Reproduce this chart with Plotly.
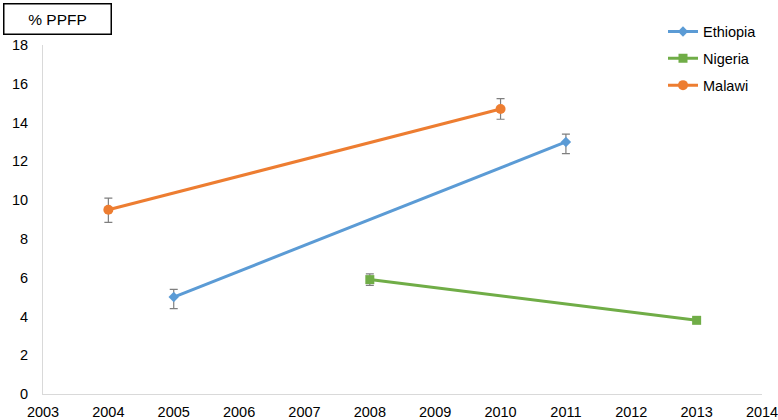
import plotly.graph_objects as go

years_eth = [2005, 2011]
vals_eth = [5.0, 13.0]
err_eth_plus = [0.4, 0.4]
err_eth_minus = [0.6, 0.6]

years_nga = [2008, 2013]
vals_nga = [5.9, 3.8]
err_nga_plus = [0.3, 0.15]
err_nga_minus = [0.3, 0.15]

years_mwi = [2004, 2010]
vals_mwi = [9.5, 14.7]
err_mwi_plus = [0.6, 0.53]
err_mwi_minus = [0.65, 0.53]

x_ticks = list(range(2003, 2015))
y_ticks = list(range(0, 19, 2))

FONT = "Liberation Sans, Arial, Helvetica, sans-serif"
ERR = "#7f7f7f"
FS = 14.5

fig = go.Figure()

def add(name, xs, ys, ep, em, color, symbol, size, group):
    fig.add_trace(go.Scatter(
        x=xs, y=ys, name=name, mode="lines+markers",
        line=dict(color=color, width=3),
        marker=dict(color=color, symbol=symbol, size=size),
        error_y=dict(type="data", symmetric=False, array=ep, arrayminus=em,
                     color=ERR, thickness=1.2, width=4),
        legendgroup=group,
    ))

add("Ethiopia", years_eth, vals_eth, err_eth_plus, err_eth_minus, "#5B9BD5", "diamond", 8, "a")
add("Nigeria", years_nga, vals_nga, err_nga_plus, err_nga_minus, "#70AD47", "square", 9, "b")
add("Malawi", years_mwi, vals_mwi, err_mwi_plus, err_mwi_minus, "#ED7D31", "circle", 10, "c")

L, R, T, B = 43, 16, 45, 26
W, H = 778, 420
pw = W - L - R
ph = H - T - B

fig.update_layout(
    width=W, height=H,
    margin=dict(l=L, r=R, t=T, b=B, pad=0),
    paper_bgcolor="white", plot_bgcolor="white",
    font=dict(family=FONT, size=FS, color="#000000"),
    showlegend=True,
    legend=dict(
        x=(663 - L) / pw, y=(ph + T - 15.5) / ph, xanchor="left", yanchor="top",
        font=dict(size=FS, family=FONT), tracegroupgap=5,
        bgcolor="rgba(0,0,0,0)",
    ),
    xaxis=dict(
        range=[2003, 2014], tickvals=x_ticks, ticktext=[str(v) for v in x_ticks],
        showgrid=False, zeroline=False, showline=True, linecolor="#d9d9d9", linewidth=1,
        ticks="", tickfont=dict(size=FS, family=FONT), automargin=False,
        ticklabelstandoff=5, ticklabeloverflow="allow",
    ),
    yaxis=dict(
        range=[0, 18], tickvals=y_ticks, ticktext=[str(v) for v in y_ticks],
        showgrid=False, zeroline=False, showline=True, linecolor="#d9d9d9", linewidth=1,
        ticks="", tickfont=dict(size=FS, family=FONT), ticklabelstandoff=11,
        automargin=False, ticklabeloverflow="allow",
    ),
    annotations=[dict(
        text="% PPFP", xref="paper", yref="paper",
        x=(3 - L) / pw, y=(ph + T - 3) / ph, xanchor="left", yanchor="top",
        showarrow=False, width=106, height=29, align="center", valign="middle",
        bordercolor="#000000", borderwidth=1.5, borderpad=0,
        font=dict(size=15.5, family=FONT, color="#000000"),
    )],
)

fig.write_html("out.html")
